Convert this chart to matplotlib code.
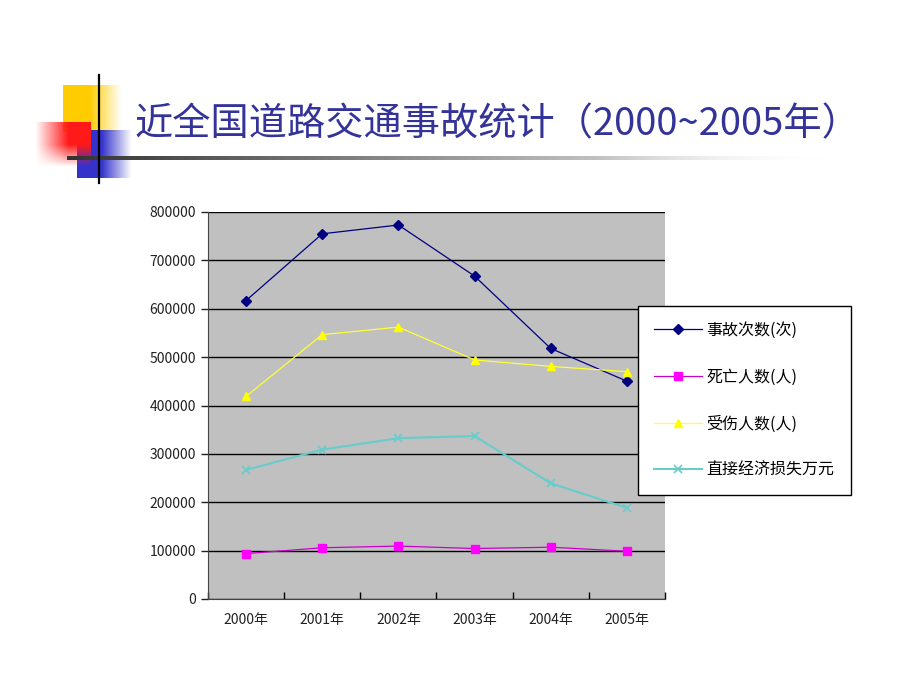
import numpy as np
import matplotlib
matplotlib.use("Agg")
import matplotlib.pyplot as plt

plt.rcParams['font.family'] = ['Noto Sans CJK SC', 'DejaVu Sans']

years = ['2000年', '2001年', '2002年', '2003年', '2004年', '2005年']
accidents = [616971, 754919, 773137, 667507, 517889, 450254]
deaths = [93853, 105930, 109381, 104372, 107077, 98738]
injured = [418721, 546485, 562074, 494174, 480864, 469911]
loss = [266890, 308787, 332438, 336914, 239141, 188401]
series_names = ['事故次数(次)', '死亡人数(人)', '受伤人数(人)', '直接经济损失万元']
title = '近全国道路交通事故统计（2000~2005年）'

W, H = 920, 690
fig = plt.figure(figsize=(W / 100, H / 100), dpi=100)

# slide decoration layer (pixel coordinates)
deco = fig.add_axes([0, 0, 1, 1])
deco.set_xlim(0, W)
deco.set_ylim(H, 0)
deco.axis('off')


def grad_rect(x0, x1, y0, y1, rgb, fade):
    n = 64
    t = np.linspace(0, 1, n)
    img = np.zeros((n, n, 4))
    img[..., :3] = rgb
    if fade == 'right':
        a = np.clip((1 - t) / 0.55, 0, 1)[None, :]
    else:
        a = np.clip(t / 0.6, 0, 1)[None, :] * np.clip((1 - t) / 0.5, 0, 1)[:, None]
    img[..., 3] = np.broadcast_to(a, (n, n))
    deco.imshow(img, extent=(x0, x1, y1, y0), aspect='auto', interpolation='bilinear', zorder=1)


grad_rect(63, 122, 85, 132, (1.0, 0.8, 0.0), 'right')
grad_rect(77, 132, 130, 178, (0.2, 0.2, 0.8), 'right')
grad_rect(35, 91, 122, 167, (1.0, 0.1, 0.1), 'left')

# gradient underline
n = 256
strip = np.zeros((1, n, 4))
g = np.linspace(0.2, 1.0, n)
strip[0, :, 0] = g
strip[0, :, 1] = g
strip[0, :, 2] = g
strip[0, :, 3] = np.clip((1 - np.linspace(0, 1, n)) / 0.3, 0, 1)
deco.imshow(strip, extent=(67, 830, 160, 156), aspect='auto', interpolation='bilinear', zorder=2)
deco.plot([99, 99], [75, 183], color='black', lw=1.6, zorder=3)

fig.text(135 / W, 1 - 125 / H, title, fontsize=27.5, color='#333399', va='center', ha='left',
         fontweight='light')

# chart
ax = fig.add_axes([208 / W, 1 - 599 / H, (665 - 208) / W, (599 - 212) / H])
ax.set_facecolor('#C0C0C0')
x = np.arange(len(years))
ax.plot(x, accidents, color='#000080', marker='D', ms=5, lw=0.9, label=series_names[0], zorder=4)
ax.plot(x, deaths, color='#CC00CC', marker='s', ms=6, mfc='#FF00FF', mec='#FF00FF', lw=0.9, label=series_names[1], zorder=4)
ax.plot(x, injured, color='#FFFF33', marker='^', ms=6, mfc='#FFFF00', mec='#FFFF00', lw=0.9, label=series_names[2], zorder=4)
ax.plot(x, loss, color='#66CCCC', marker='x', ms=6, mew=1.2, lw=1.5, label=series_names[3], zorder=4)

ax.set_xlim(-0.5, len(years) - 0.5)
ax.set_ylim(0, 800000)
ax.set_yticks(np.arange(0, 800001, 100000))
ax.set_yticklabels([str(v) for v in range(0, 800001, 100000)])
ax.set_xticks(x)
ax.set_xticklabels(years)
ax.set_xticks(np.arange(-0.5, len(years)), minor=True)
ax.tick_params(axis='x', which='major', length=0, pad=10, labelsize=10, colors='#222222')
ax.tick_params(axis='x', which='minor', length=5, direction='in', width=1)
ax.tick_params(axis='y', length=5, direction='out', labelsize=10, colors='#222222', width=1)
ax.grid(axis='y', color='black', lw=1)
ax.set_axisbelow(True)
ax.spines['top'].set_visible(False)
ax.spines['right'].set_visible(False)
ax.spines['left'].set_color('#444444')
ax.spines['bottom'].set_color('#444444')

leg = fig.legend(loc='upper left', bbox_to_anchor=(638 / W, 1 - 306 / H), frameon=True,
                 fancybox=False, edgecolor='black', framealpha=1, fontsize=11.5,
                 handlelength=3.0, labelspacing=1.85, borderpad=1.0, handletextpad=0.3,
                 borderaxespad=0)
leg.get_frame().set_linewidth(1)

fig.savefig('out.png', dpi=100)
